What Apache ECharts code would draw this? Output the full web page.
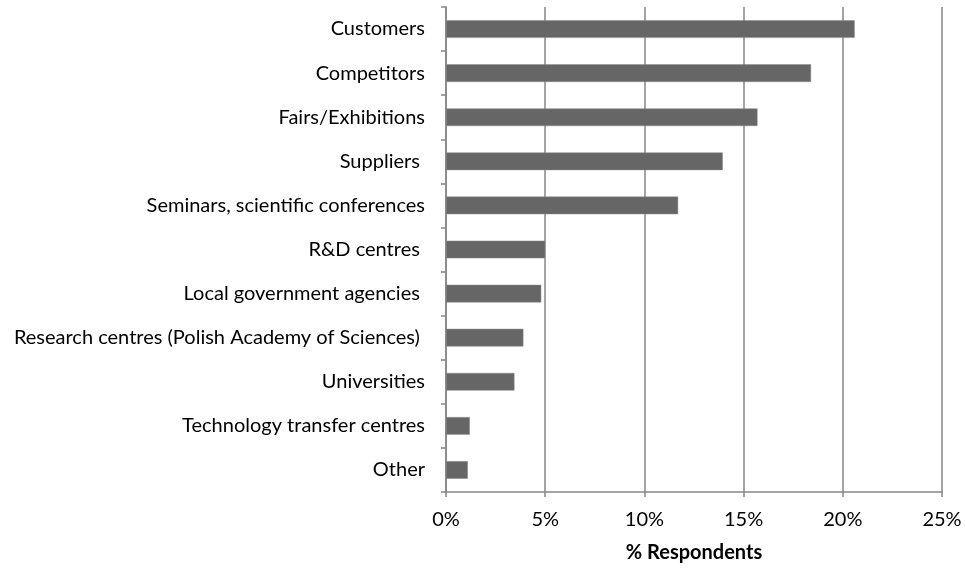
<!DOCTYPE html>
<html>
<head>
<meta charset="utf-8">
<title>Sources of information</title>
<script src="https://cdn.jsdelivr.net/npm/echarts@6/dist/echarts.min.js"></script>
<style>
  html, body { margin: 0; padding: 0; background: #fff; }
  #main { width: 965px; height: 568px; }
</style>
</head>
<body>
<div id="main"></div>
<script>
// categories, top to bottom
const categories = [
  'Customers',
  'Competitors',
  'Fairs/Exhibitions',
  'Suppliers ',
  'Seminars, scientific conferences',
  'R&D centres ',
  'Local government agencies ',
  'Research centres (Polish Academy of Sciences) ',
  'Universities',
  'Technology transfer centres',
  'Other'
];
// % respondents
const values = [20.6, 18.4, 15.7, 13.95, 11.7, 5.0, 4.8, 3.9, 3.45, 1.2, 1.1];
const xTicks = [0, 5, 10, 15, 20, 25];

const chart = echarts.init(document.getElementById('main'));
chart.setOption({
  animation: false,
  textStyle: { fontFamily: 'Lato, sans-serif' },
  grid: { left: 446, right: 23, top: 7, bottom: 73 },
  xAxis: {
    type: 'value',
    min: xTicks[0],
    max: xTicks[xTicks.length - 1],
    interval: 5,
    name: '% Respondents',
    nameLocation: 'middle',
    nameGap: 51,
    nameTextStyle: { fontSize: 20, fontWeight: 'bold', color: '#000' },
    axisLine: { show: true, lineStyle: { color: '#868686', width: 1.5 } },
    axisTick: { show: true, length: 5, lineStyle: { color: '#868686', width: 1.5 } },
    axisLabel: { formatter: '{value}%', fontSize: 20, color: '#000', margin: 18 },
    splitLine: { show: true, lineStyle: { color: '#868686', width: 1.5 } }
  },
  yAxis: {
    type: 'category',
    inverse: true,
    data: categories,
    axisLine: { show: true, lineStyle: { color: '#868686', width: 1.5 } },
    axisTick: { show: true, length: 5, lineStyle: { color: '#868686', width: 1.5 } },
    axisLabel: { fontSize: 20, color: '#000', margin: 21 }
  },
  series: [{
    type: 'bar',
    data: values,
    barWidth: '40%',
    itemStyle: { color: '#666666', borderColor: '#8a8a8a', borderWidth: 0.5 }
  }]
});
</script>
</body>
</html>
